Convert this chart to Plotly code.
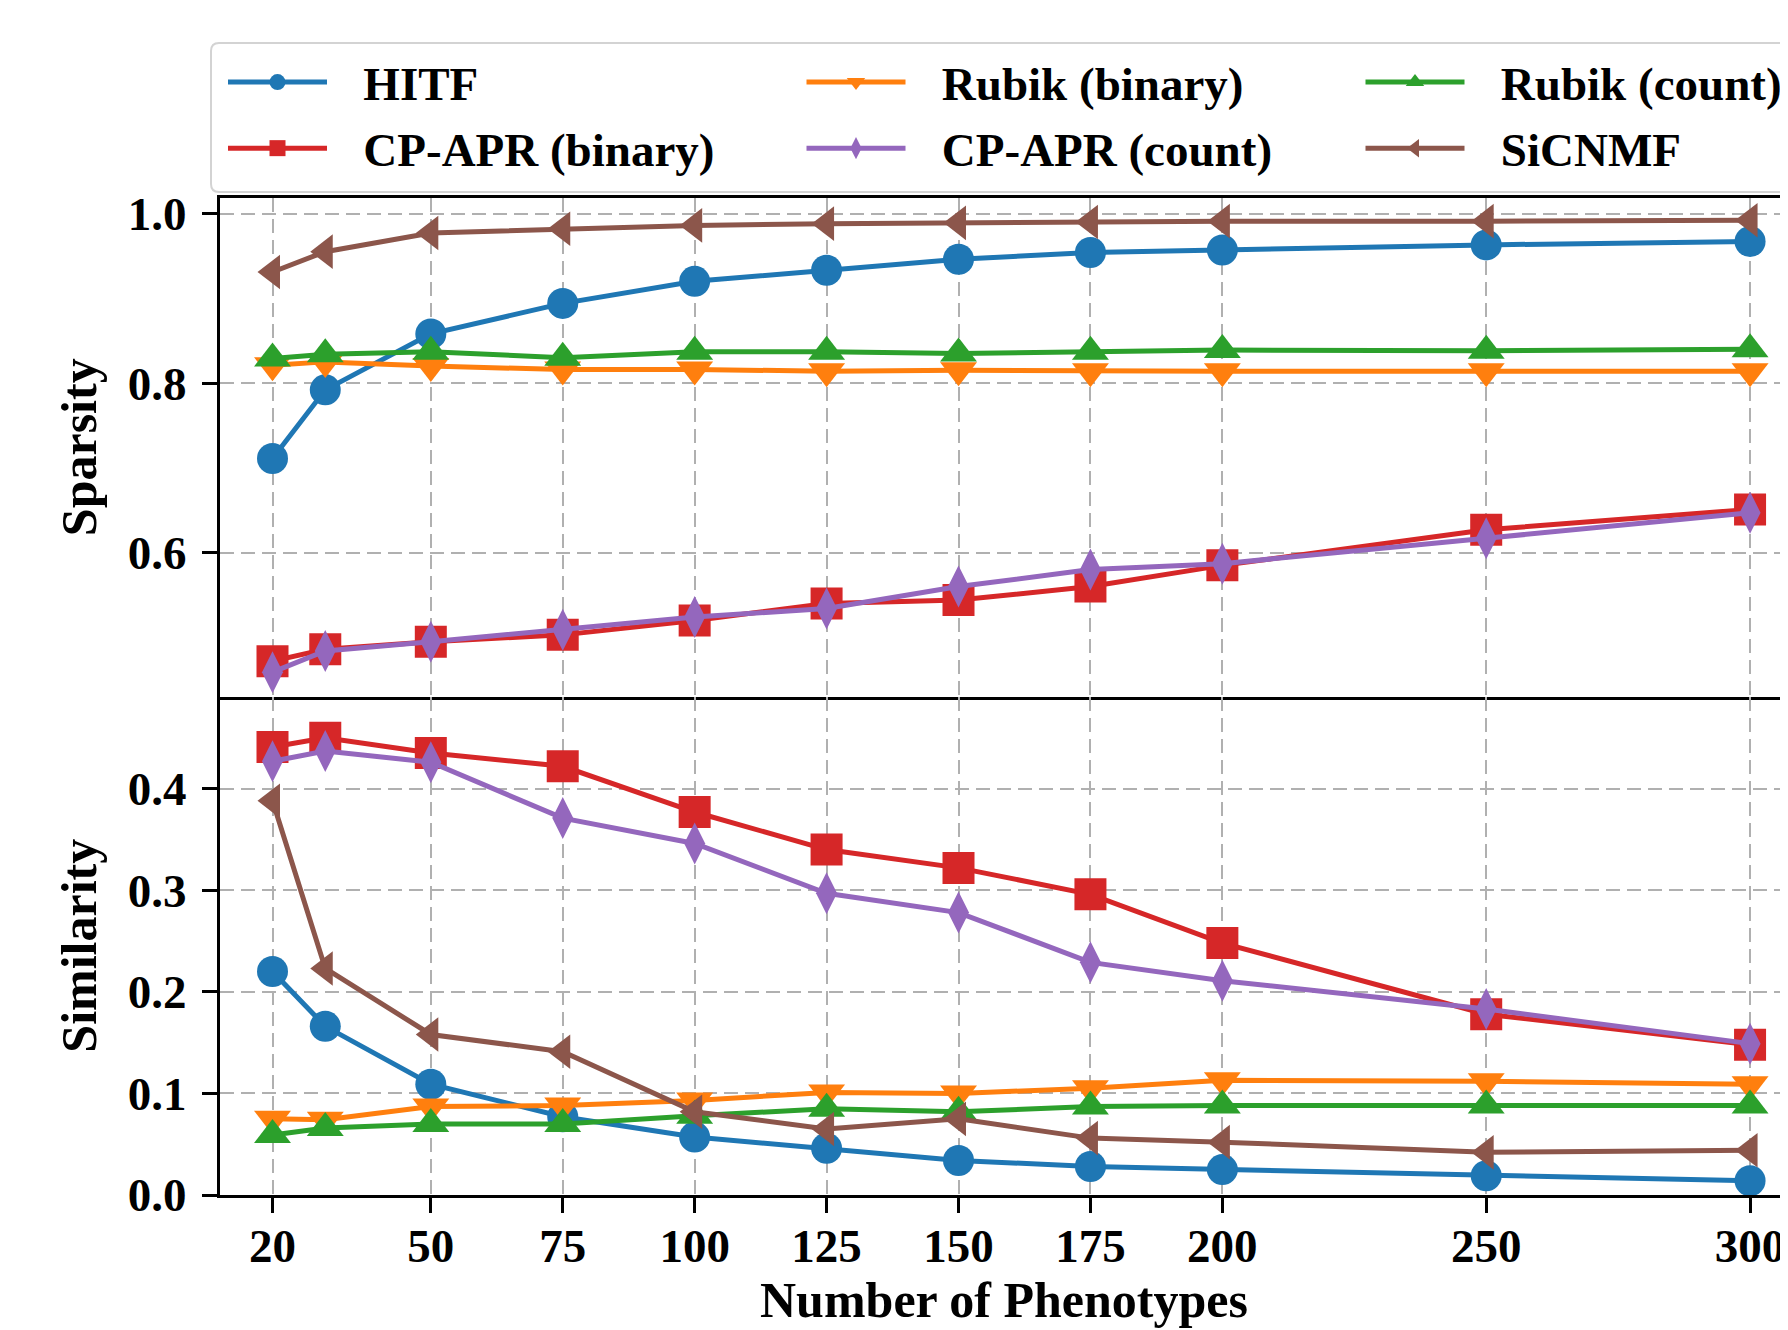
import plotly.graph_objects as go
from plotly.subplots import make_subplots

# ---------------- data ----------------
phenotypes = [20, 30, 50, 75, 100, 125, 150, 175, 200, 250, 300]
x_tick_vals = [20, 50, 75, 100, 125, 150, 175, 200, 250, 300]

series_names = ["HITF", "CP-APR (binary)", "Rubik (binary)", "CP-APR (count)", "Rubik (count)", "SiCNMF"]

hitf_sparsity = [0.711, 0.792, 0.858, 0.894, 0.920, 0.933, 0.946, 0.954, 0.957, 0.963, 0.967]
cpapr_bin_sparsity = [0.472, 0.486, 0.495, 0.503, 0.520, 0.540, 0.544, 0.560, 0.585, 0.627, 0.651]
rubik_bin_sparsity = [0.821, 0.825, 0.820, 0.816, 0.816, 0.814, 0.815, 0.814, 0.814, 0.814, 0.814]
cpapr_cnt_sparsity = [0.459, 0.484, 0.495, 0.509, 0.524, 0.534, 0.560, 0.580, 0.587, 0.617, 0.647]
rubik_cnt_sparsity = [0.829, 0.834, 0.837, 0.830, 0.837, 0.837, 0.835, 0.837, 0.839, 0.838, 0.840]
sicnmf_sparsity = [0.931, 0.955, 0.977, 0.982, 0.986, 0.988, 0.989, 0.990, 0.991, 0.991, 0.992]

hitf_similarity = [0.220, 0.166, 0.109, 0.077, 0.057, 0.046, 0.034, 0.028, 0.025, 0.019, 0.014]
cpapr_bin_similarity = [0.441, 0.450, 0.435, 0.422, 0.377, 0.340, 0.322, 0.296, 0.248, 0.178, 0.148]
rubik_bin_similarity = [0.075, 0.074, 0.087, 0.088, 0.093, 0.101, 0.100, 0.105, 0.113, 0.112, 0.109]
cpapr_cnt_similarity = [0.427, 0.437, 0.426, 0.371, 0.346, 0.297, 0.278, 0.229, 0.211, 0.183, 0.149]
rubik_cnt_similarity = [0.059, 0.066, 0.070, 0.070, 0.078, 0.085, 0.082, 0.087, 0.088, 0.088, 0.088]
sicnmf_similarity = [0.388, 0.223, 0.158, 0.141, 0.082, 0.065, 0.075, 0.056, 0.052, 0.042, 0.044]

sparsity = [hitf_sparsity, cpapr_bin_sparsity, rubik_bin_sparsity,
            cpapr_cnt_sparsity, rubik_cnt_sparsity, sicnmf_sparsity]
similarity = [hitf_similarity, cpapr_bin_similarity, rubik_bin_similarity,
              cpapr_cnt_similarity, rubik_cnt_similarity, sicnmf_similarity]

# ---------------- styles ----------------
colors = ["#1f77b4", "#d62728", "#ff7f0e", "#9467bd", "#2ca02c", "#8c564b"]
symbols = ["circle", "square", "triangle-down", "diamond-tall", "triangle-up", "triangle-left"]
sizes = [31, 32, 32, 30, 32, 30]
legend_ids = ["legend", "legend", "legend2", "legend2", "legend3", "legend3"]

FONT = "Liberation Serif"
FS = 47
FS_TITLE = 50
PAD = "\u00a0\u00a0\u2006"

OFF = 8  # page body margin
W, H = 1788 - OFF, 1330 - OFF
L, T = 220 - OFF, 198 - OFF
B = H - (1195 - OFF)
R = 0
PW, PH = W - L - R, H - T - B

fig = make_subplots(rows=2, cols=1, shared_xaxes=True, vertical_spacing=0)

for i, name in enumerate(series_names):
    for row, data in ((1, sparsity[i]), (2, similarity[i])):
        fig.add_trace(go.Scatter(
            x=phenotypes, y=data, name=PAD + name, mode="lines+markers",
            line=dict(color=colors[i], width=5),
            marker=dict(symbol=symbols[i], size=sizes[i], color=colors[i], line=dict(width=0)),
            legend=legend_ids[i], legendgroup=name, showlegend=(row == 1),
        ), row=row, col=1)

grid = dict(showgrid=True, gridcolor="#b0b0b0", gridwidth=2, griddash="14px,7px")
axis_line = dict(showline=True, linecolor="black", linewidth=3)
tickfont = dict(family=FONT, size=FS, color="black", weight="bold")
titlefont = dict(family=FONT, size=FS_TITLE, color="black", weight="bold")

px_per_unit = 5.277
x0_px = 272.5 - OFF
x_range = [20 - (x0_px - L) / px_per_unit, 20 + (W - x0_px) / px_per_unit]
fig.update_xaxes(range=x_range, tickvals=x_tick_vals, zeroline=False, **grid, **axis_line)
fig.update_xaxes(showticklabels=False, ticks="", mirror=True, row=1, col=1)
fig.update_xaxes(ticks="outside", ticklen=15, tickwidth=3, tickcolor="black", mirror=False,
                 tickfont=tickfont, ticklabelstandoff=-7,
                 title=dict(text="Number of Phenotypes", font=titlefont, standoff=10),
                 row=2, col=1)

fig.update_yaxes(mirror=False, zeroline=False, ticks="outside", ticklen=15, tickwidth=3,
                 tickcolor="black", tickfont=tickfont, tickformat=".1f", ticklabelstandoff=6,
                 **grid, **axis_line)
fig.update_yaxes(range=[0.4303, 1.0183], tickvals=[0.6, 0.8, 1.0],
                 title=dict(text="Sparsity", font=titlefont, standoff=16), row=1, col=1)
fig.update_yaxes(range=[0.0, 0.4907], tickvals=[0.0, 0.1, 0.2, 0.3, 0.4],
                 title=dict(text="Similarity", font=titlefont, standoff=16), row=2, col=1)


def px_x(px):
    """reference pixel -> paper x"""
    return (px - OFF - L) / PW


def px_y(py):
    """reference pixel -> paper y"""
    return (H - B - (py - OFF)) / PH


legend_font = dict(family=FONT, size=FS, color="black", weight="bold")
legend_common = dict(orientation="v", xanchor="left", yanchor="top", bgcolor="rgba(0,0,0,0)",
                     borderwidth=0, font=legend_font, itemwidth=99, tracegroupgap=2,
                     xref="paper", yref="paper")
legend_x = [223, 801.5, 1360.5]
legend_top = 45

# legend frame (matplotlib-like rounded box)
x0, x1 = px_x(211), px_x(1810)
y0, y1 = px_y(192), px_y(43)
rx, ry = 8 / PW, 8 / PH
frame_path = (f"M{x0 + rx},{y1} L{x1 - rx},{y1} Q{x1},{y1} {x1},{y1 - ry} "
              f"L{x1},{y0 + ry} Q{x1},{y0} {x1 - rx},{y0} L{x0 + rx},{y0} "
              f"Q{x0},{y0} {x0},{y0 + ry} L{x0},{y1 - ry} Q{x0},{y1} {x0 + rx},{y1} Z")

fig.update_layout(
    width=W, height=H,
    margin=dict(l=L, r=R, t=T, b=B, autoexpand=False),
    paper_bgcolor="white", plot_bgcolor="white",
    font=dict(family=FONT, size=FS, color="black"),
    legend=dict(x=px_x(legend_x[0]), y=px_y(legend_top), **legend_common),
    legend2=dict(x=px_x(legend_x[1]), y=px_y(legend_top), **legend_common),
    legend3=dict(x=px_x(legend_x[2]), y=px_y(legend_top), **legend_common),
    shapes=[dict(type="path", xref="paper", yref="paper", path=frame_path,
                 line=dict(color="#d3d3d3", width=2), fillcolor="white", layer="above")],
)

fig.write_html("out.html")
